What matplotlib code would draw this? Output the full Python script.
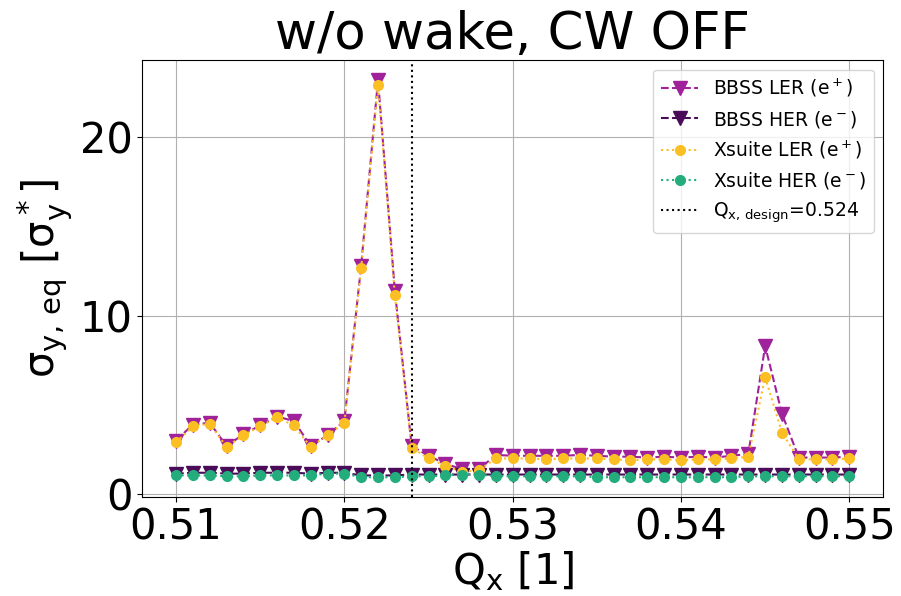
import matplotlib
matplotlib.use("Agg")
import matplotlib.pyplot as plt

plt.rcParams['mathtext.default'] = 'regular'

qx = [0.510, 0.511, 0.512, 0.513, 0.514, 0.515, 0.516, 0.517, 0.518, 0.519,
      0.520, 0.521, 0.522, 0.523, 0.524, 0.525, 0.526, 0.527, 0.528, 0.529,
      0.530, 0.531, 0.532, 0.533, 0.534, 0.535, 0.536, 0.537, 0.538, 0.539,
      0.540, 0.541, 0.542, 0.543, 0.544, 0.545, 0.546, 0.547, 0.548, 0.549,
      0.550]

bbss_ler = [3.0, 3.9, 4.0, 2.7, 3.35, 3.85, 4.35, 4.1, 2.7, 3.3,
            4.1, 12.8, 23.2, 11.4, 2.7, 2.15, 1.7, 1.4, 1.4, 2.2,
            2.15, 2.15, 2.15, 2.15, 2.2, 2.15, 2.1, 2.1, 2.05, 2.1,
            2.05, 2.1, 2.05, 2.15, 2.25, 8.3, 4.5, 2.05, 2.05, 2.05,
            2.1]

bbss_her = [1.15, 1.2, 1.2, 1.15, 1.15, 1.2, 1.2, 1.2, 1.15, 1.2,
            1.2, 1.05, 1.05, 1.05, 1.1, 1.1, 1.1, 1.1, 1.1, 1.1,
            1.1, 1.1, 1.1, 1.1, 1.1, 1.1, 1.1, 1.1, 1.1, 1.1,
            1.1, 1.1, 1.1, 1.1, 1.1, 1.1, 1.1, 1.1, 1.1, 1.1,
            1.1]

xs_ler = [2.9, 3.8, 3.95, 2.65, 3.3, 3.8, 4.3, 3.85, 2.65, 3.3,
          4.0, 12.65, 22.95, 11.15, 2.6, 2.0, 1.6, 1.25, 1.35, 2.0,
          2.0, 2.0, 1.95, 2.0, 2.0, 2.0, 1.95, 1.9, 1.95, 1.95,
          1.9, 1.95, 1.95, 2.0, 2.1, 6.55, 3.45, 1.95, 1.95, 1.95,
          2.0]

xs_her = [1.05, 1.05, 1.05, 1.0, 1.0, 1.05, 1.05, 1.05, 1.05, 1.15,
          1.15, 0.95, 0.95, 0.95, 1.0, 1.0, 1.05, 1.1, 1.1, 1.0,
          1.0, 1.0, 1.0, 1.0, 1.0, 0.95, 0.95, 0.95, 0.95, 0.95,
          0.95, 0.95, 0.95, 0.95, 1.0, 1.0, 1.0, 1.0, 1.0, 1.0,
          1.0]

qx_design = 0.524

fig = plt.figure(figsize=(9.01, 5.96), dpi=100)
ax = fig.add_axes([0.158, 0.166, 0.822, 0.733])

ax.plot(qx, bbss_ler, ls='--', lw=1.5, marker='v', ms=10.5, color='#a0229b',
        label='BBSS LER (e$^+$)')
ax.plot(qx, bbss_her, ls='--', lw=1.5, marker='v', ms=10.5, color='#4a0c58',
        label='BBSS HER (e$^-$)')
ax.plot(qx, xs_ler, ls=':', lw=1.5, marker='o', ms=7, color='#fbbf24',
        label='Xsuite LER (e$^+$)')
ax.plot(qx, xs_her, ls=':', lw=1.5, marker='o', ms=7, color='#23ad7c',
        label='Xsuite HER (e$^-$)')
ax.axvline(qx_design, ls=':', lw=1.5, color='black',
           label='$Q_{x,\\,design}$=%.3f' % qx_design)

ax.set_title('w/o wake, CW OFF', fontsize=37)
ax.set_xlabel('$Q_x$ [1]', fontsize=30, labelpad=0)
ax.set_ylabel('$\\sigma_{y,\\,eq}$ [$\\sigma_y^*$]', fontsize=30)
ax.tick_params(labelsize=30)
ax.set_xticks([0.51, 0.52, 0.53, 0.54, 0.55])
ax.set_yticks([0, 10, 20])
ax.grid(True)
ax.legend(fontsize=13.5, loc='upper right')

fig.savefig('out.png', dpi=100)
